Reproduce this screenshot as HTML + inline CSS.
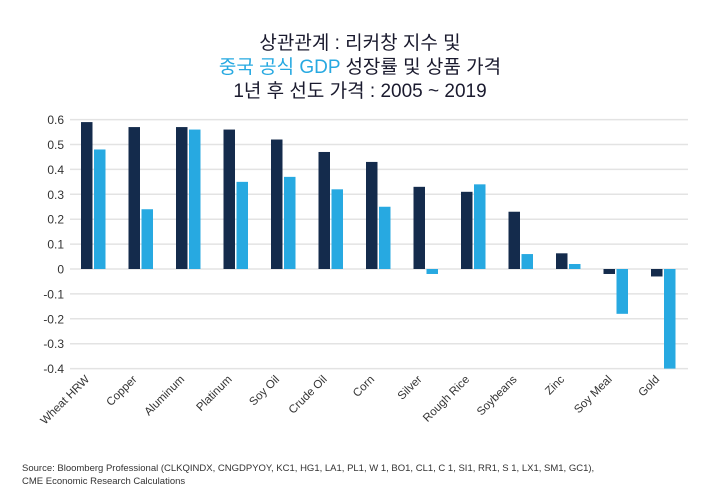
<!DOCTYPE html>
<html><head><meta charset="utf-8"><style>
body{margin:0;background:#fff;width:720px;height:500px;overflow:hidden;font-family:"Liberation Sans","Noto Sans CJK KR",sans-serif;color:#1a1a2e}
.t{position:absolute;left:0;width:720px;text-align:center;font-size:19px;font-family:"Liberation Sans","Noto Sans CJK KR",sans-serif}
.src{position:absolute;left:22px;top:462px;font-size:9.5px;color:#333;line-height:13px}
</style></head><body>
<div class="t" style="top:28px">상관관계 : 리커창 지수 및</div>
<div class="t" style="top:52px"><span style="color:#27a9e1">중국 공식 GDP</span> 성장률 및 상품 가격</div>
<div class="t" style="top:76px">1년 후 선도 가격 : 2005 ~ 2019</div>
<svg id="c" width="720" height="500" style="position:absolute;left:0;top:0"></svg>
<div class="src">Source: Bloomberg Professional (CLKQINDX, CNGDPYOY, KC1, HG1, LA1, PL1, W 1, BO1, CL1, C 1, SI1, RR1, S 1, LX1, SM1, GC1),<br>CME Economic Research Calculations</div>
<script>
const categories=["Wheat HRW","Copper","Aluminum","Platinum","Soy Oil","Crude Oil","Corn","Silver","Rough Rice","Soybeans","Zinc","Soy Meal","Gold"];
const seriesA=[0.59,0.57,0.57,0.56,0.52,0.47,0.43,0.33,0.31,0.23,0.063,-0.02,-0.03];
const seriesB=[0.48,0.24,0.56,0.35,0.37,0.32,0.25,-0.02,0.34,0.06,0.02,-0.18,-0.40];
const ticks=[0.6,0.5,0.4,0.3,0.2,0.1,0,-0.1,-0.2,-0.3,-0.4];
const tickLabels=["0.6","0.5","0.4","0.3","0.2","0.1","0","-0.1","-0.2","-0.3","-0.4"];
const svg=document.getElementById('c');const NS="http://www.w3.org/2000/svg";
const y=v=>269-v*249;
const x0=70,x1=688,step=47.5,first=81;
function mk(t,a){const e=document.createElementNS(NS,t);for(const k in a)e.setAttribute(k,a[k]);svg.appendChild(e);return e;}
ticks.forEach((t,i)=>{
const g=mk('line',{x1:x0,x2:x1,y1:y(t),y2:y(t),stroke:'#e3e3e3','stroke-width':1.5});


const l=mk('text',{x:64,y:y(t)+4.5,'text-anchor':'end','font-size':12,fill:'#333','font-family':'Liberation Sans, sans-serif'});
l.textContent=tickLabels[i];


});
categories.forEach((c,i)=>{
const bx=first+i*step;
const a=seriesA[i],b=seriesB[i];
const ra=mk('rect',{x:bx,y:Math.min(y(a),y(0)),width:11.5,height:Math.abs(y(a)-y(0)),fill:'#142b4c'});


const rb=mk('rect',{x:bx+13,y:Math.min(y(b),y(0)),width:11.5,height:Math.abs(y(b)-y(0)),fill:'#27a9e1'});


const cx=bx+9,cy=380;
const t=mk('text',{x:cx,y:cy,'text-anchor':'end','font-size':11.5,fill:'#333','font-family':'Liberation Sans, sans-serif',transform:`rotate(-45 ${cx} ${cy})`});
t.textContent=c;


});
</script>
</body></html>
